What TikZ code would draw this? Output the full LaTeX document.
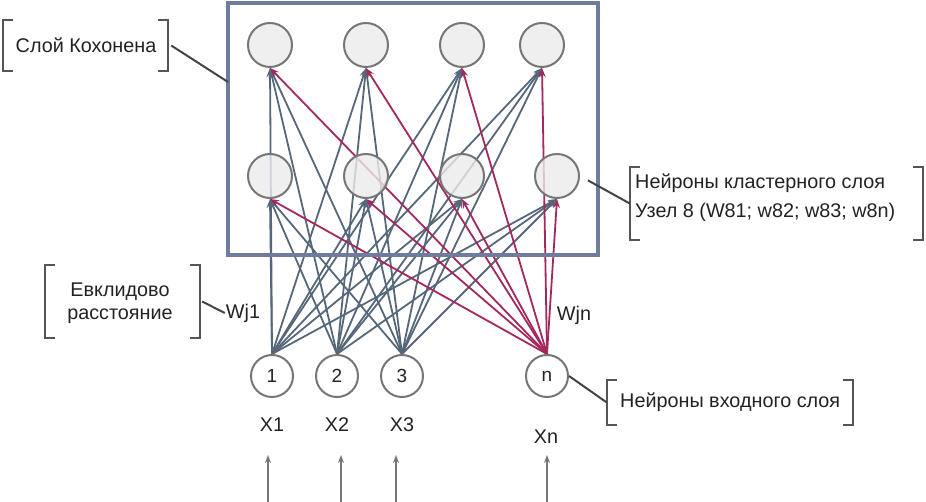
\documentclass[tikz,border=0pt]{standalone}
\usepackage{fontspec}
\setmainfont{Liberation Sans}
\usetikzlibrary{arrows.meta,backgrounds,calc}
\definecolor{framec}{HTML}{6F7C9E}
\definecolor{linec}{HTML}{56677A}
\definecolor{redc}{HTML}{A3285E}
\definecolor{circc}{HTML}{767676}
\definecolor{brc}{HTML}{555555}
\definecolor{txtc}{HTML}{222222}
\begin{document}
\begin{tikzpicture}[x=1pt,y=-1pt,
  neuron/.style={circle,draw=circc,line width=2pt,fill=black!8,fill opacity=0.8,text opacity=1,minimum size=44pt,inner sep=0pt},
  inneuron/.style={circle,draw=circc,line width=2pt,fill=white,minimum size=42pt,inner sep=0pt,text=txtc,font=\fontsize{19}{20}\selectfont},
  conn/.style={draw=linec,line width=1.8pt,-{Stealth[length=9pt,width=7pt]}},
  rconn/.style={conn,draw=redc},
  inarrow/.style={draw=circc,line width=1.5pt,-{Stealth[length=8pt,width=6pt]}},
  lbl/.style={font=\fontsize{19.8}{24}\selectfont,text=txtc,inner sep=1pt},
  brkbox/.style={draw=none,inner sep=0pt},
  brk/.style={draw=brc,line width=2.4pt},
  leader/.style={draw=brc!80!black,line width=2pt},
  frame/.style={draw=framec,line width=3.4pt,inner sep=0pt}
]
\useasboundingbox (0,0) rectangle (926,502);

% frame
\node[frame,minimum width=370pt,minimum height=252pt] (frame) at (413,129) {};

% hidden neurons
\node[neuron] (t1) at (270,45) {};
\node[neuron] (t2) at (366,45) {};
\node[neuron] (t3) at (462,45) {};
\node[neuron] (t4) at (542,45) {};
\node[neuron] (m1) at (270,176) {};
\node[neuron] (m2) at (366,176) {};
\node[neuron] (m3) at (462,176) {};
\node[neuron] (m4) at (557,176) {};

% input neurons
\node[inneuron] (i1) at (272,376) {1};
\node[inneuron] (i2) at (337,376) {2};
\node[inneuron] (i3) at (402,376) {3};
\node[inneuron] (in) at (547,376) {n};

% connections
\begin{pgfonlayer}{background}
\foreach \i in {i1,i2,i3}
  \foreach \h in {t1,t2,t3,t4,m1,m2,m3,m4}
    \draw[conn] (\i.north) -- (\h.south);
\foreach \h in {t1,t2,t3,t4,m1,m2,m3,m4}
  \draw[rconn] (in.north) -- (\h.south);
\end{pgfonlayer}

% input labels and arrows
\node[lbl] (x1) at (272,425) {X1};
\node[lbl] (x2) at (337,425) {X2};
\node[lbl] (x3) at (402,425) {X3};
\node[lbl] (xn) at (546,437) {Xn};
\coordinate (b1) at (268,502); \coordinate (a1) at (268,455);
\coordinate (b2) at (341,502); \coordinate (a2) at (341,455);
\coordinate (b3) at (396,502); \coordinate (a3) at (396,455);
\coordinate (bn) at (547,502); \coordinate (an) at (547,455);
\draw[inarrow] (b1) -- (a1);
\draw[inarrow] (b2) -- (a2);
\draw[inarrow] (b3) -- (a3);
\draw[inarrow] (bn) -- (an);

% weight labels
\node[lbl] (wj1) at (243,313) {Wj1};
\node[lbl] (wjn) at (574,315) {Wjn};

% bracket: Kohonen layer
\node[brkbox,minimum width=165pt,minimum height=51pt] (koh) at (85.5,45.5) {};
\draw[brk] ([xshift=10pt]koh.north west) -- (koh.north west) -- (koh.south west) -- ([xshift=10pt]koh.south west);
\draw[brk] ([xshift=-10pt]koh.north east) -- (koh.north east) -- (koh.south east) -- ([xshift=-10pt]koh.south east);
\node[lbl] (kohT) at (86,45) {Слой Кохонена};
\coordinate (kohend) at (228,82);
\draw[leader] ([xshift=3pt]koh.east) -- (kohend);

% bracket: cluster neurons
\node[brkbox,minimum width=293pt,minimum height=73pt] (clu) at (776.5,203.5) {};
\draw[brk] ([xshift=10pt]clu.north west) -- (clu.north west) -- (clu.south west) -- ([xshift=10pt]clu.south west);
\draw[brk] ([xshift=-10pt]clu.north east) -- (clu.north east) -- (clu.south east) -- ([xshift=-10pt]clu.south east);
\node[lbl,anchor=west] (cluT1) at (634,183) {Нейроны кластерного слоя};
\node[lbl,anchor=west] (cluT2) at (634,212) {Узел 8 (W81; w82; w83; w8n)};
\draw[leader,shorten <=9pt] (m4.east) -- (clu.west);

% bracket: Euclidean distance
\node[brkbox,minimum width=155pt,minimum height=73pt] (euc) at (122.5,301.5) {};
\draw[brk] ([xshift=10pt]euc.north west) -- (euc.north west) -- (euc.south west) -- ([xshift=10pt]euc.south west);
\draw[brk] ([xshift=-10pt]euc.north east) -- (euc.north east) -- (euc.south east) -- ([xshift=-10pt]euc.south east);
\node[lbl] (eucT1) at (120,292) {Евклидово};
\node[lbl] (eucT2) at (120,316) {расстояние};
\draw[leader] ([xshift=2pt]euc.east) -- (wj1.west);

% bracket: input neurons
\node[brkbox,minimum width=246pt,minimum height=45pt] (inp) at (730,402.5) {};
\draw[brk] ([xshift=10pt]inp.north west) -- (inp.north west) -- (inp.south west) -- ([xshift=10pt]inp.south west);
\draw[brk] ([xshift=-10pt]inp.north east) -- (inp.north east) -- (inp.south east) -- ([xshift=-10pt]inp.south east);
\node[lbl,anchor=west] (inpT) at (619,402) {Нейроны входного слоя};
\draw[leader] (in.east) -- (inp.west);
\end{tikzpicture}
\end{document}
